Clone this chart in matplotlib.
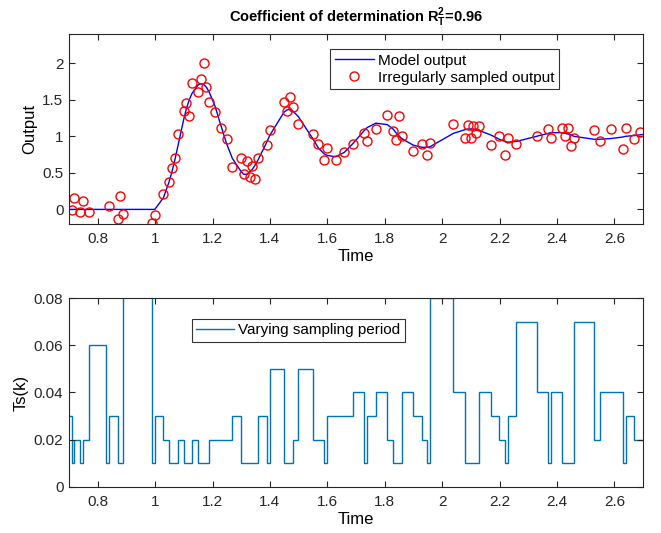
import numpy as np
import matplotlib
matplotlib.use("Agg")
import matplotlib.pyplot as plt
from matplotlib.ticker import FuncFormatter

# sampling periods (each step lasts as long as its value)
t_start = 0.679
ts_period = [0.03, 0.01, 0.02, 0.01, 0.02, 0.06, 0.01, 0.03, 0.01, 0.01,
             0.10, 0.01, 0.03, 0.02, 0.01, 0.01, 0.01, 0.02, 0.01, 0.01,
             0.01, 0.02, 0.01, 0.01, 0.01, 0.01, 0.02, 0.02, 0.02, 0.02,
             0.03, 0.01, 0.01, 0.01, 0.01, 0.01, 0.01, 0.03, 0.01, 0.05,
             0.01, 0.01, 0.01, 0.02, 0.05, 0.02, 0.02, 0.01, 0.03, 0.03,
             0.03, 0.04, 0.01, 0.03, 0.04, 0.02, 0.01, 0.01, 0.01, 0.04,
             0.03, 0.02, 0.01, 0.08, 0.04, 0.01, 0.01, 0.01, 0.01, 0.01,
             0.04, 0.03, 0.02, 0.01, 0.03, 0.07, 0.04, 0.01, 0.04, 0.01,
             0.01, 0.01, 0.01, 0.07, 0.02, 0.04, 0.04, 0.01, 0.03, 0.02,
             0.02]

# output values at the sample instants (nan = not visible)
y_measured = [np.nan, -0.01, 0.15, -0.04, 0.11, -0.04, np.nan, 0.05, -0.13, 0.19,
              -0.06, -0.19, -0.08, 0.21, 0.37, 0.56, 0.71, 1.03, 1.35, 1.45,
              1.28, 1.73, 1.60, 1.78, 2.00, 1.67, 1.47, 1.33, 1.12, 0.96,
              0.575, 0.70, 0.48, 0.66, 0.45, 0.59, 0.42, 0.71, 0.88, 1.09,
              1.47, 1.34, 1.54, 1.40, 1.17, 1.03, 0.89, 0.675, 0.835, 0.675,
              0.785, 0.89, 1.04, 0.93, 1.10, 1.29, 1.07, 0.95, 1.28, 1.01,
              0.80, 0.90, 0.75, 0.91, 1.17, 0.98, 1.15, 0.98, 1.14, 1.04,
              1.14, 0.88, 1.01, 0.75, 0.98, 0.89, 1.00, 1.10, 0.98, 1.12,
              1.00, 1.12, 0.87, 0.98, 1.08, 0.94, 1.10, 0.82, 1.12, 0.96,
              1.06, np.nan]

y_model = [0.0, 0.0, 0.0, 0.0, 0.0, 0.0, 0.0, 0.0, 0.0, 0.0,
           0.0, 0.0, 0.0, 0.16, 0.38, 0.52, 0.68, 0.86, 1.22, 1.38,
           1.50, 1.59, 1.70, 1.72, 1.71, 1.67, 1.60, 1.41, 1.15, 0.90,
           0.70, 0.52, 0.48, 0.48, 0.51, 0.55, 0.61, 0.68, 0.92, 1.01,
           1.33, 1.36, 1.37, 1.35, 1.27, 0.97, 0.84, 0.76, 0.74, 0.72,
           0.78, 0.90, 1.08, 1.12, 1.18, 1.16, 1.10, 1.05, 1.01, 0.97,
           0.88, 0.85, 0.85, 0.86, 1.04, 1.09, 1.10, 1.10, 1.10, 1.09,
           1.08, 1.02, 0.96, 0.93, 0.92, 0.93, 1.00, 1.04, 1.05, 1.05,
           1.04, 1.03, 1.02, 1.00, 0.96, 0.96, 0.97, 0.99, 1.00, 1.01,
           1.02, 1.03]

x_ticks = [0.8, 1.0, 1.2, 1.4, 1.6, 1.8, 2.0, 2.2, 2.4, 2.6]
y_ticks_out = [0, 0.5, 1, 1.5, 2]
y_ticks_ts = [0, 0.02, 0.04, 0.06, 0.08]

plt.rcParams['font.family'] = ['Liberation Sans', 'DejaVu Sans']
plt.rcParams['mathtext.fontset'] = 'custom'
plt.rcParams['mathtext.rm'] = 'Liberation Sans'
plt.rcParams['mathtext.bf'] = 'Liberation Sans:bold'

AX_COLOR = '#262626'


def style_axes(ax, yticks):
    ax.set_xlim(0.7, 2.7)
    ax.set_xticks(x_ticks)
    ax.set_yticks(yticks)
    ax.xaxis.set_major_formatter(FuncFormatter(lambda v, p: '%g' % v))
    ax.yaxis.set_major_formatter(FuncFormatter(lambda v, p: '%g' % v))
    ax.tick_params(direction='in', top=True, right=True, length=4,
                   width=0.8, labelsize=11, colors=AX_COLOR, pad=4)
    ax.tick_params(axis='x', pad=6)
    for spine in ax.spines.values():
        spine.set_color(AX_COLOR)
        spine.set_linewidth(0.8)
    ax.set_xlabel('Time', fontsize=12, labelpad=2)


t = t_start + np.concatenate([[0.0], np.cumsum(ts_period)])

fig = plt.figure(figsize=(6.61, 5.33), dpi=100)
ax1 = fig.add_axes([0.1044, 0.5797, 0.8684, 0.3565])
ax2 = fig.add_axes([0.1044, 0.0869, 0.8684, 0.3535])

ax1.plot(t, y_model, color='#0000FF', lw=1.0, label='Model output')
ax1.plot(t, y_measured, 'o', mfc='none', mec='#FF0000', ms=6.5, mew=1.0,
         label='Irregularly sampled output')
ax1.set_ylim(-0.2, 2.4)
style_axes(ax1, y_ticks_out)
ax1.set_ylabel('Output', fontsize=12, labelpad=4)
ax1.set_title(r'Coefficient of determination R$^{\mathbf{2}}_{\mathbf{T}}$=0.96',
              fontsize=10.5, fontweight='bold', pad=9)
leg1 = ax1.legend(loc='upper right', bbox_to_anchor=(0.854, 0.921), fontsize=11,
                  frameon=True, fancybox=False, edgecolor='black',
                  borderpad=0.3, labelspacing=0.2, handlelength=2.6,
                  handletextpad=0.25, borderaxespad=0)
leg1.get_frame().set_linewidth(0.8)

ax2.stairs(ts_period, t, baseline=None, color='#0072BD', lw=1.0,
           label='Varying sampling period')
ax2.set_ylim(0, 0.08)
style_axes(ax2, y_ticks_ts)
ax2.set_ylabel('Ts(k)', fontsize=12, labelpad=4)
leg2 = ax2.legend(loc='upper right', bbox_to_anchor=(0.585, 0.891), fontsize=11,
                  frameon=True, fancybox=False, edgecolor='black',
                  borderpad=0.3, handlelength=2.5, handletextpad=0.25,
                  borderaxespad=0)
leg2.get_frame().set_linewidth(0.8)

fig.savefig('out.png', dpi=100)
